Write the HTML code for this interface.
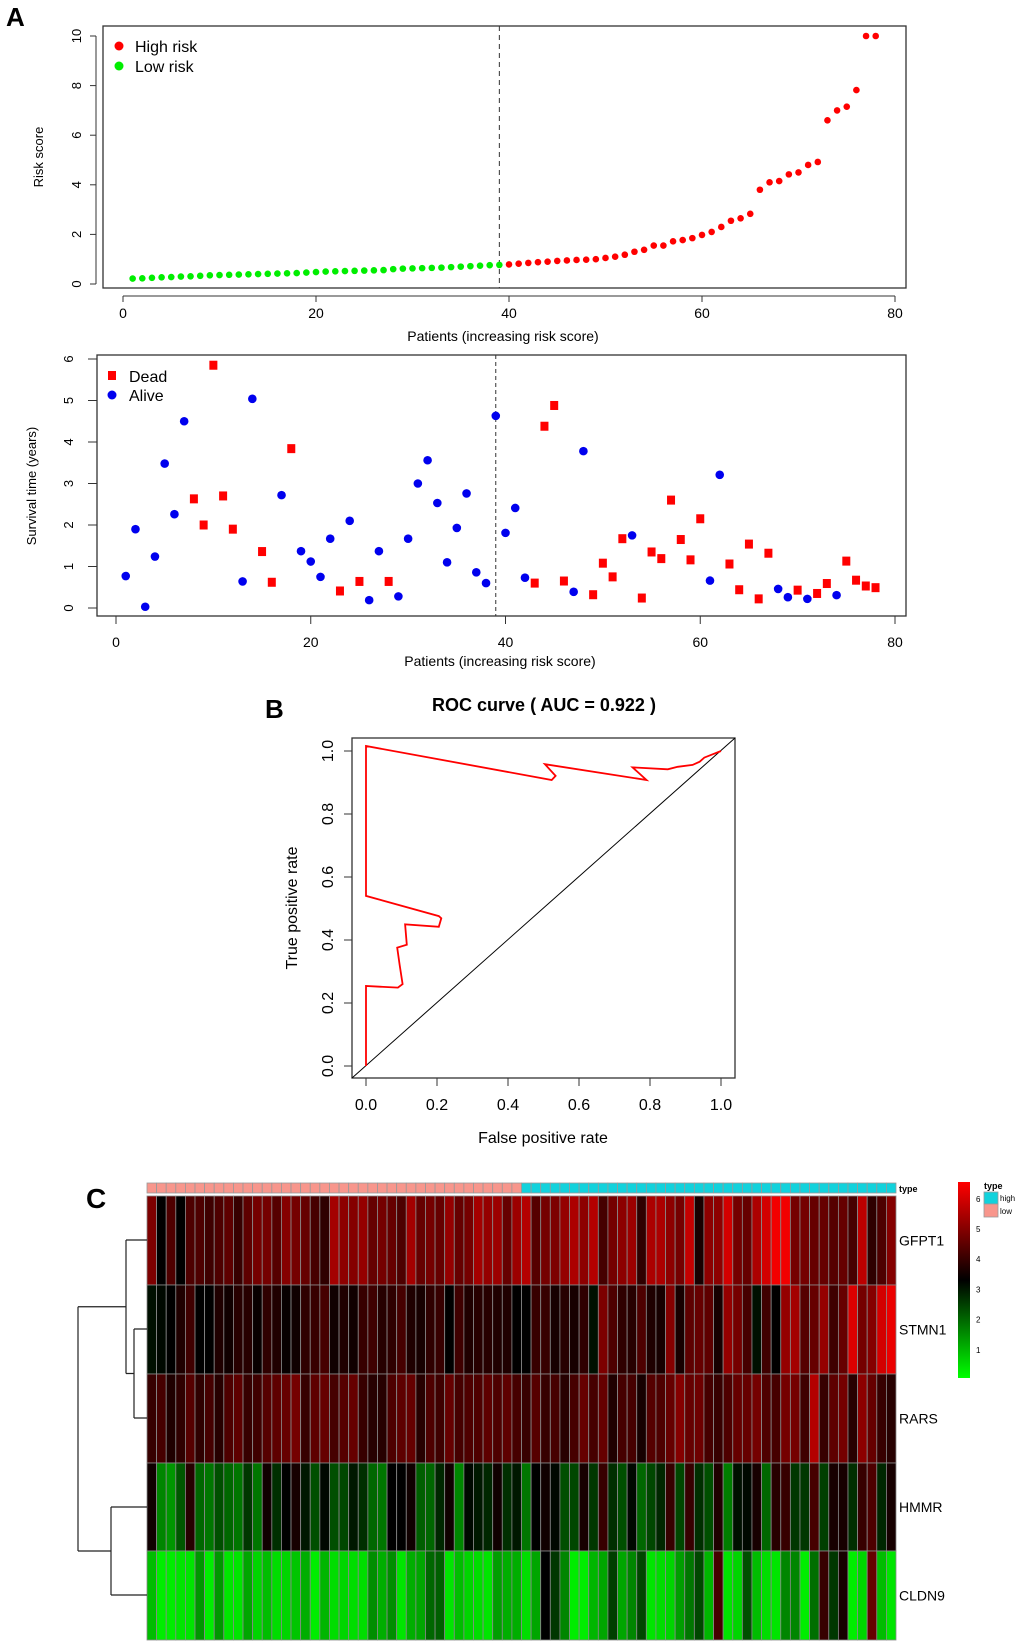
<!DOCTYPE html>
<html><head><meta charset="utf-8"><style>
html,body{margin:0;padding:0;background:#fff}
svg{display:block;font-family:"Liberation Sans",Arial,sans-serif}
</style></head><body>
<svg id="fig" width="1020" height="1646" viewBox="0 0 1020 1646" xmlns="http://www.w3.org/2000/svg">
<text x="6" y="26" font-size="26" font-weight="bold">A</text>
<text x="265" y="718" font-size="26" font-weight="bold">B</text>
<text x="86" y="1208" font-size="28" font-weight="bold">C</text>
<g id="p1"></g>
<g id="p2"></g>
<g id="p3"></g>
<g id="p4"></g>
</svg>
<script>
const riskScores=[0.22,0.23,0.25,0.27,0.28,0.3,0.31,0.33,0.35,0.36,0.37,0.38,0.39,0.4,0.41,0.42,0.43,0.44,0.46,0.48,0.5,0.51,0.52,0.53,0.54,0.55,0.56,0.6,0.62,0.63,0.64,0.65,0.66,0.68,0.7,0.72,0.74,0.76,0.77,
0.79,0.82,0.85,0.88,0.9,0.93,0.95,0.97,0.98,1.0,1.05,1.1,1.18,1.3,1.38,1.55,1.55,1.72,1.77,1.85,1.98,2.1,2.3,2.55,2.65,2.83,3.8,4.1,4.15,4.42,4.5,4.8,4.92,6.6,7.0,7.15,7.82,10.0,10.0];
const cutoffIndex=39;
const survTime=[0.77,1.9,0.03,1.24,3.48,2.26,4.5,2.63,2.0,5.85,2.7,1.9,0.64,5.04,1.36,0.62,2.72,3.84,1.37,1.12,0.75,1.67,0.41,2.1,0.64,0.19,1.37,0.64,0.28,1.67,3.0,3.56,2.53,1.1,1.93,2.76,0.86,0.6,4.63,1.81,2.41,0.73,0.6,4.38,4.88,0.65,0.39,3.78,0.32,1.08,0.75,1.67,1.75,0.24,1.35,1.19,2.6,1.65,1.16,2.15,0.66,3.21,1.06,0.44,1.54,0.22,1.32,0.46,0.26,0.43,0.22,0.35,0.59,0.31,1.13,0.67,0.53,0.49];
const survStatus=[0,0,0,0,0,0,0,1,1,1,1,1,0,0,1,1,0,1,0,0,0,0,1,0,1,0,0,1,0,0,0,0,0,0,0,0,0,0,0,0,0,0,1,1,1,1,0,0,1,1,1,1,0,1,1,1,1,1,1,1,0,0,1,1,1,1,1,0,0,1,0,1,1,0,1,1,1,1];
const xTicks=[0,20,40,60,80];
const riskTicks=[0,2,4,6,8,10];
const survTicks=[0,1,2,3,4,5,6];
const rocFpr=[0,0,0.09,0.103,0.095,0.088,0.115,0.11,0.205,0.212,0.205,0,0,0.523,0.534,0.504,0.79,0.751,0.85,0.878,0.92,0.94,0.953,1];
const rocTpr=[0,0.254,0.249,0.26,0.32,0.376,0.385,0.45,0.442,0.469,0.476,0.54,1.016,0.908,0.921,0.958,0.908,0.948,0.942,0.95,0.956,0.966,0.979,1];
const rocTicks=[0,0.2,0.4,0.6,0.8,1.0];
const genes=["GFPT1","STMN1","RARS","HMMR","CLDN9"];
const gfpt1=[4.9,3.3,4.3,3.3,4.3,4.3,4.1,4.3,4.5,4.0,4.5,4.8,4.8,4.4,5.0,4.8,4.6,4.2,3.9,5.4,5.1,5.0,5.2,4.6,4.8,4.6,4.3,5.4,4.6,4.8,4.6,5.2,4.6,4.8,5.4,5.2,5.3,4.6,5.3,
5.6,4.4,4.8,4.9,5.2,5.5,5.1,5.6,4.2,4.8,5.1,5.3,3.9,5.5,5.5,5.1,4.8,5.8,3.6,5.1,5.1,6.0,4.8,4.6,5.5,6.0,6.4,6.4,4.8,4.8,4.6,4.6,4.4,4.6,4.2,5.7,3.9,4.3,5.0];
const stmn1=[3.1,3.2,3.3,3.7,4.1,3.3,3.3,3.7,3.5,3.8,3.8,3.4,3.9,3.7,3.4,3.5,3.9,4.0,4.2,3.5,3.7,3.5,4.0,4.1,3.8,3.9,4.2,3.7,3.6,3.9,4.0,3.3,4.1,3.7,3.8,3.8,3.7,3.7,3.3,
3.3,4.0,4.0,3.6,3.8,3.6,3.9,3.1,4.9,4.3,3.9,3.8,4.3,3.7,3.6,5.0,3.6,4.5,4.6,4.5,3.6,5.2,4.8,4.2,3.1,4.1,3.3,5.2,5.4,4.4,4.6,5.2,4.1,4.6,6.1,4.8,5.0,6.0,6.3];
const rars=[4.0,4.2,3.7,3.9,4.4,3.9,4.2,3.8,4.3,4.5,4.0,4.1,4.4,4.5,4.6,4.8,4.0,4.5,4.6,4.2,4.4,4.6,4.0,3.8,3.8,4.3,4.5,4.6,3.8,4.3,4.1,4.6,4.2,4.3,4.3,4.5,4.3,4.5,4.2,
4.0,4.4,4.0,4.2,3.8,4.2,4.6,4.2,4.6,3.7,4.2,4.2,3.6,4.4,4.3,4.6,5.0,4.6,4.7,4.2,4.0,4.3,4.6,4.6,4.8,4.3,4.2,4.8,4.8,4.1,5.6,4.0,4.5,4.8,3.8,5.1,4.6,4.0,3.8];
const hmmr=[3.5,1.6,1.4,2.2,3.8,2.0,1.8,2.3,2.0,1.8,2.6,1.8,3.5,2.7,3.3,3.6,3.0,2.3,3.2,2.3,2.4,3.0,2.7,2.0,1.8,3.3,3.3,3.5,2.1,2.0,2.8,3.5,1.6,3.2,3.0,2.8,3.5,2.7,3.0,
1.8,3.3,3.5,3.2,2.3,2.4,3.6,2.6,4.0,2.7,2.3,3.2,2.0,2.4,2.8,4.0,2.4,4.0,2.7,2.3,3.7,1.7,3.1,3.2,3.6,2.0,3.8,4.0,2.6,2.6,4.2,2.5,3.6,3.6,2.7,4.0,4.3,2.8,3.6];
const cldn9=[0.9,0.3,0.3,0.4,0.4,1.4,0.3,1.4,0.4,0.4,1.2,0.6,0.9,0.5,0.6,0.8,1.1,0.3,1.0,0.5,0.6,0.5,0.5,1.5,1.1,1.5,0.4,1.1,1.2,2.0,2.1,0.4,0.9,0.6,0.5,0.4,1.3,1.1,1.1,
0.5,1.2,3.3,2.6,1.6,0.3,0.3,1.0,1.2,2.5,1.2,1.6,2.4,0.4,0.5,0.6,1.3,1.8,2.4,1.0,4.2,0.4,0.6,2.3,0.9,0.5,0.4,1.6,1.6,0.3,1.9,4.0,2.6,3.6,0.3,0.6,4.6,0.9,0.4];
const colorTicks=[1,2,3,4,5,6];

const NS="http://www.w3.org/2000/svg";
function mk(parent,tag,attrs,text){const e=document.createElementNS(NS,tag);for(const k in attrs)e.setAttribute(k,attrs[k]);if(text!==undefined)e.textContent=text;parent.appendChild(e);return e;}

// ---------- Panel A1: risk score ----------
(function(){
const g=document.getElementById('p1');
const sx=v=>123+v*(895-123)/80, sy=v=>284-v*(284-36)/10;
let e=mk(g,'rect',{x:103,y:26,width:803,height:262,fill:'none',stroke:'#333','stroke-width':1.3});

e=mk(g,'line',{x1:sx(0),x2:sx(80),y1:296,y2:296,stroke:'#333'});

xTicks.forEach(t=>{mk(g,'line',{x1:sx(t),x2:sx(t),y1:296,y2:302,stroke:'#333'});
 e=mk(g,'text',{x:sx(t),y:318,'font-size':14,'text-anchor':'middle'},t);
 });
e=mk(g,'line',{x1:96,x2:96,y1:sy(0),y2:sy(10),stroke:'#333'});

riskTicks.forEach(t=>{mk(g,'line',{x1:90,x2:96,y1:sy(t),y2:sy(t),stroke:'#333'});
 e=mk(g,'text',{x:0,y:0,'font-size':13,'text-anchor':'middle',transform:`translate(81,${sy(t)}) rotate(-90)`},t);
 });
e=mk(g,'text',{x:503,y:341,'font-size':14,'text-anchor':'middle'},'Patients (increasing risk score)');

e=mk(g,'text',{x:0,y:0,'font-size':13,'text-anchor':'middle',transform:'translate(43,157) rotate(-90)'},'Risk score');

e=mk(g,'line',{x1:sx(cutoffIndex),x2:sx(cutoffIndex),y1:26,y2:288,stroke:'#333','stroke-dasharray':'5,4'});

riskScores.forEach((v,i)=>{e=mk(g,'circle',{cx:sx(i+1),cy:sy(v),r:3.3,fill:(i+1)<=cutoffIndex?'#00ee00':'#ff0000'});
 });
mk(g,'circle',{cx:119,cy:46,r:4.5,fill:'#ff0000'});
e=mk(g,'text',{x:135,y:52,'font-size':16},'High risk');
mk(g,'circle',{cx:119,cy:66,r:4.5,fill:'#00ee00'});
e=mk(g,'text',{x:135,y:72,'font-size':16},'Low risk');
})();

// ---------- Panel A2: survival ----------
(function(){
const g=document.getElementById('p2');
const sx=v=>116+v*(895-116)/80, sy=v=>608-v*(608-359)/6;
let e=mk(g,'rect',{x:97,y:355,width:809,height:261,fill:'none',stroke:'#333','stroke-width':1.3});

xTicks.forEach(t=>{mk(g,'line',{x1:sx(t),x2:sx(t),y1:616,y2:624,stroke:'#333'});
 e=mk(g,'text',{x:sx(t),y:647,'font-size':14,'text-anchor':'middle'},t);
 });
survTicks.forEach(t=>{mk(g,'line',{x1:88,x2:97,y1:sy(t),y2:sy(t),stroke:'#333'});
 e=mk(g,'text',{x:0,y:0,'font-size':13,'text-anchor':'middle',transform:`translate(73,${sy(t)}) rotate(-90)`},t);
 });
e=mk(g,'text',{x:500,y:666,'font-size':14,'text-anchor':'middle'},'Patients (increasing risk score)');

e=mk(g,'text',{x:0,y:0,'font-size':13,'text-anchor':'middle',transform:'translate(36,486) rotate(-90)'},'Survival time (years)');

e=mk(g,'line',{x1:sx(cutoffIndex),x2:sx(cutoffIndex),y1:355,y2:616,stroke:'#333','stroke-dasharray':'4,3'});

survTime.forEach((v,i)=>{
 if(survStatus[i]){e=mk(g,'rect',{x:sx(i+1)-4,y:sy(v)-4.5,width:8,height:9,fill:'#ff0000'});}
 else{e=mk(g,'circle',{cx:sx(i+1),cy:sy(v),r:4.3,fill:'#0000ee'});}
 });
mk(g,'rect',{x:108,y:371,width:8,height:9,fill:'#ff0000'});
e=mk(g,'text',{x:129,y:382,'font-size':16},'Dead');
mk(g,'circle',{cx:112,cy:395,r:4.5,fill:'#0000ee'});
e=mk(g,'text',{x:129,y:401,'font-size':16},'Alive');
})();

// ---------- Panel B: ROC ----------
(function(){
const g=document.getElementById('p3');
const sx=v=>366+v*(721-366), sy=v=>1066-v*(1066-751);
let e=mk(g,'text',{x:544,y:711,'font-size':18,'font-weight':'bold','text-anchor':'middle'},'ROC curve ( AUC =  0.922 )');

e=mk(g,'rect',{x:352,y:738,width:383,height:340,fill:'none',stroke:'#333','stroke-width':1.3});

e=mk(g,'line',{x1:352,y1:1078,x2:735,y2:738,stroke:'#000','stroke-width':1});

rocTicks.forEach(t=>{mk(g,'line',{x1:sx(t),x2:sx(t),y1:1078,y2:1086,stroke:'#333'});
 e=mk(g,'text',{x:sx(t),y:1110,'font-size':16,'text-anchor':'middle'},t.toFixed(1));
 
 mk(g,'line',{x1:344,x2:352,y1:sy(t),y2:sy(t),stroke:'#333'});
 e=mk(g,'text',{x:0,y:0,'font-size':16,'text-anchor':'middle',transform:`translate(333,${sy(t)}) rotate(-90)`},t.toFixed(1));
 });
e=mk(g,'text',{x:543,y:1143,'font-size':16,'text-anchor':'middle'},'False positive rate');

e=mk(g,'text',{x:0,y:0,'font-size':16,'text-anchor':'middle',transform:'translate(297,908) rotate(-90)'},'True positive rate');

const pts=rocFpr.map((f,i)=>sx(f).toFixed(1)+','+sy(rocTpr[i]).toFixed(1)).join(' ');
e=mk(g,'polyline',{points:pts,fill:'none',stroke:'#ff0000','stroke-width':1.8});

})();

// ---------- Panel C: heatmap ----------
(function(){
const g=document.getElementById('p4');
const rows=[gfpt1,stmn1,rars,hmmr,cldn9];
const x0=147,x1=896,n=78,cw=(x1-x0)/n;
const rowY=[1196,1285,1374,1463,1551,1640];
function col(v){if(v>=3.3){const r=Math.min(255,Math.round((v-3.3)/3.26*255));return `rgb(${r},0,0)`;}
 const gg=Math.min(255,Math.round((3.3-v)/3.23*255));return `rgb(0,${gg},0)`;}
let e;
for(let i=0;i<n;i++){e=mk(g,'rect',{x:x0+i*cw,y:1183,width:cw,height:10,fill:i<cutoffIndex?'#f8968c':'#12d2dc',stroke:'#999','stroke-width':0.8});
 }
e=mk(g,'text',{x:899,y:1192,'font-size':9,'font-weight':'bold'},'type');
rows.forEach((arr,r)=>{arr.forEach((v,i)=>{e=mk(g,'rect',{x:x0+i*cw,y:rowY[r],width:cw,height:rowY[r+1]-rowY[r],fill:col(v),stroke:'#8a8a8a','stroke-width':0.8});
 });
 e=mk(g,'text',{x:899,y:(rowY[r]+rowY[r+1])/2+5,'font-size':14},genes[r]);
 });
const c=[1240,1329,1418,1507,1595];
const m1=(c[1]+c[2])/2, m0=(c[0]+m1)/2, m2=(c[3]+c[4])/2;
let p=`M147,${c[0]}H126 M147,${c[1]}H134 M147,${c[2]}H134 M147,${c[3]}H111 M147,${c[4]}H111 `;
p+=`M134,${c[1]}V${c[2]} M134,${m1}H126 M126,${c[0]}V${m1} M126,${m0}H78 M111,${c[3]}V${c[4]} M111,${m2}H78 M78,${m0}V${m2}`;
e=mk(g,'path',{d:p,fill:'none',stroke:'#222','stroke-width':1.2});

const defs=mk(g,'defs',{});const lg=mk(defs,'linearGradient',{id:'cb',x1:0,y1:1,x2:0,y2:0});
mk(lg,'stop',{offset:'0','stop-color':'#00ff00'});mk(lg,'stop',{offset:'0.5','stop-color':'#000000'});mk(lg,'stop',{offset:'1','stop-color':'#ff0000'});
e=mk(g,'rect',{x:958,y:1182,width:12,height:196,fill:'url(#cb)'});

colorTicks.forEach(t=>{e=mk(g,'text',{x:976,y:1380-t*30.2+3,'font-size':8},t);
 });
e=mk(g,'text',{x:984,y:1189,'font-size':9,'font-weight':'bold'},'type');
mk(g,'rect',{x:984,y:1192,width:14,height:12,fill:'#12d2dc',stroke:'#999','stroke-width':0.8});
e=mk(g,'text',{x:1000,y:1201,'font-size':8},'high');
mk(g,'rect',{x:984,y:1204,width:14,height:13,fill:'#f8968c',stroke:'#999','stroke-width':0.8});
e=mk(g,'text',{x:1000,y:1214,'font-size':8},'low');
})();
</script>
</body></html>
